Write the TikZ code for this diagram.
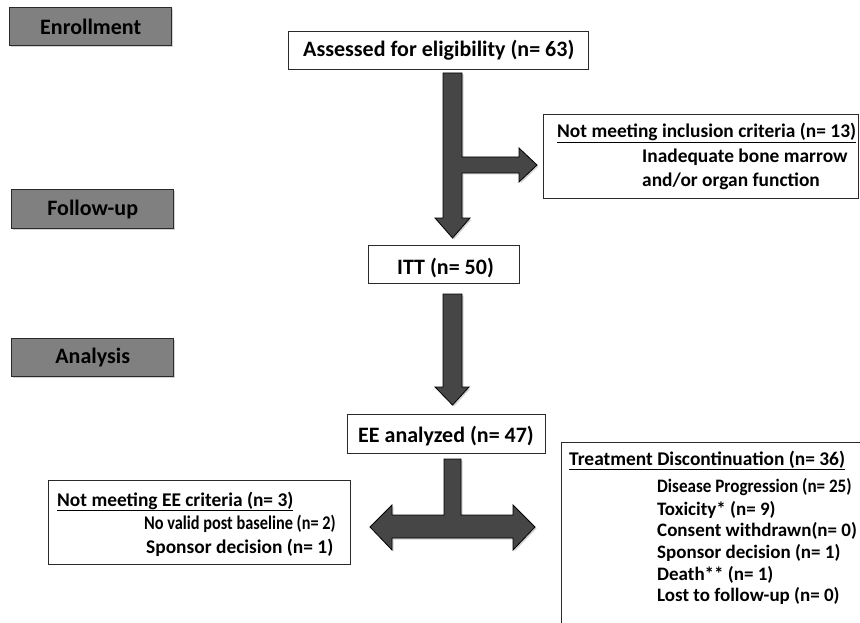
\documentclass[tikz,border=0pt]{standalone}
\usepackage{fontspec}
\setmainfont{Carlito}
\usetikzlibrary{shadows}
\definecolor{labgray}{HTML}{808080}
\definecolor{arrgray}{HTML}{464646}
\definecolor{edge}{HTML}{2A2A2A}
\begin{document}
\begin{tikzpicture}[x=1pt,y=-1pt,
  stagebox/.style={draw=edge,line width=1.4pt,fill=labgray,inner sep=0pt,anchor=north west,
     font=\bfseries\fontsize{22}{26}\selectfont,
     drop shadow={shadow xshift=1.2pt,shadow yshift=-1.2pt,opacity=0.35}},
  flowbox/.style={draw=edge,line width=1.1pt,fill=white,inner sep=0pt,anchor=north west},
  bigtxt/.style={font=\bfseries\fontsize{22}{26}\selectfont,inner sep=0pt,anchor=base west},
  smtxt/.style={font=\bfseries\fontsize{19.4}{23}\selectfont,inner sep=0pt,anchor=base west},
  listtxt/.style={font=\bfseries\fontsize{19}{23}\selectfont,inner sep=0pt,anchor=base west},
  blockarrow/.style={fill=arrgray,draw=black,line width=0.8pt,line join=miter,
     drop shadow={shadow xshift=1.5pt,shadow yshift=-1.5pt,opacity=0.35}}
]
\useasboundingbox (0,0) rectangle (860,623);
\clip (0,0) rectangle (860,623);
\fill[white] (0,0) rectangle (860,623);

% stage labels
\node[stagebox,minimum width=162pt,minimum height=38pt] (enr) at (9,7) {Enrollment};
\node[stagebox,minimum width=162pt,minimum height=39pt] (fol) at (11,189) {Follow-up};
\node[stagebox,minimum width=162pt,minimum height=38pt] (ana) at (11,338) {Analysis};

% boxes
\node[flowbox,minimum width=300pt,minimum height=38pt] (assess) at (288,31) {};
\node[bigtxt] (assesst) at (303,57) {Assessed for eligibility (n= 63)};

\node[flowbox,minimum width=315pt,minimum height=84pt] (excl) at (543,114) {};
\node[smtxt] (exclt) at (557,138) {\underline{Not meeting inclusion criteria (n= 13)}};
\node[smtxt] (excl1) at (642,163) {Inadequate bone marrow};
\node[smtxt] (excl2) at (642,187) {and/or organ function};

\node[flowbox,minimum width=151pt,minimum height=38pt] (itt) at (368,245) {};
\node[bigtxt] (ittt) at (397,274) {ITT (n= 50)};

\node[flowbox,minimum width=198pt,minimum height=39pt] (ee) at (347,414) {};
\node[bigtxt] (eet) at (358,442) {EE analyzed (n= 47)};

\node[flowbox,minimum width=302pt,minimum height=84pt] (notee) at (48,480) {};
\node[smtxt] (noteet) at (57,506) {\underline{Not meeting EE criteria (n= 3)}};
\node[smtxt] (notee1) at (144,529) {\scalebox{0.84}[1]{No valid post baseline (n= 2)}};
\node[smtxt] (notee2) at (146,553) {Sponsor decision (n= 1)};

\node[flowbox,minimum width=320pt,minimum height=200pt] (disc) at (561,442) {};
\node[smtxt] (disct) at (569,465) {\underline{Treatment Discontinuation (n= 36)}};
\node[listtxt] (disc1) at (657,492.5) {\scalebox{0.9}[1]{Disease Progression (n= 25)}};
\node[listtxt] (disc2) at (657,515) {Toxicity* (n= 9)};
\node[listtxt] (disc3) at (657,536.5) {Consent withdrawn(n= 0)};
\node[listtxt] (disc4) at (657,558) {Sponsor decision (n= 1)};
\node[listtxt] (disc5) at (657,580) {Death** (n= 1)};
\node[listtxt] (disc6) at (657,601.5) {Lost to follow-up (n= 0)};

% block arrows
\path[blockarrow] (443,73) -- (462,73) -- (462,157) -- (519,157) -- (519,148) -- (537,165)
  -- (519,182) -- (519,173) -- (462,173) -- (462,218) -- (470,218) -- (452.5,238)
  -- (435,218) -- (443,218) -- cycle;
\path[blockarrow] (443,294) -- (462,294) -- (462,387) -- (469,387) -- (452.5,405)
  -- (435,387) -- (443,387) -- cycle;
\path[blockarrow] (444,459) -- (461,459) -- (461,515) -- (513,515) -- (513,505) -- (535,527)
  -- (513,550) -- (513,538) -- (392,538) -- (392,550) -- (370,527) -- (392,505)
  -- (392,515) -- (444,515) -- cycle;
\end{tikzpicture}
\end{document}
